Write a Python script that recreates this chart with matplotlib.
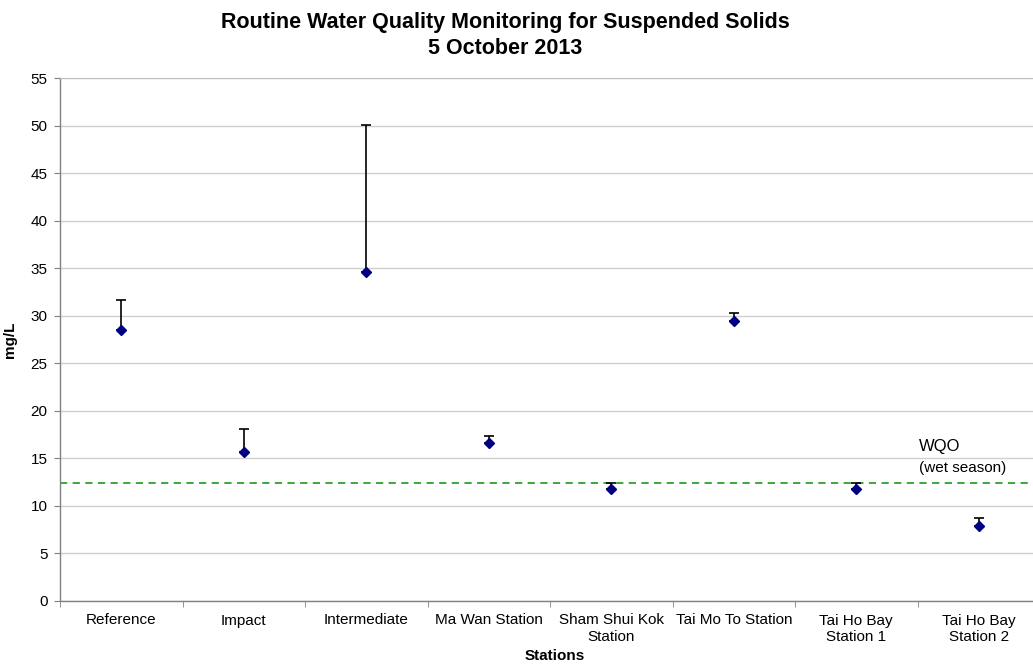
import matplotlib
matplotlib.use("Agg")
import matplotlib.pyplot as plt
import numpy as np

plt.rcParams['font.family'] = ['Liberation Sans', 'DejaVu Sans']

stations = ["Reference", "Impact", "Intermediate", "Ma Wan Station",
            "Sham Shui Kok\nStation", "Tai Mo To Station",
            "Tai Ho Bay\nStation 1", "Tai Ho Bay\nStation 2"]
mean_ss = [28.45, 15.7, 34.65, 16.65, 11.75, 29.4, 11.75, 7.9]
max_ss = [31.65, 18.05, 50.05, 17.35, 12.45, 30.25, 12.45, 8.7]
wqo = 12.45
yticks = list(range(0, 60, 5))

W, H = 1033, 664
fig = plt.figure(figsize=(W / 100, H / 100), dpi=100)
ax = fig.add_axes([60 / W, (H - 601) / H, 980 / W, 523 / H])

x = np.arange(len(stations))
upper = np.array(max_ss) - np.array(mean_ss)
ax.errorbar(x, mean_ss, yerr=[np.zeros_like(upper), upper], fmt='none',
            ecolor='black', elinewidth=1.2, capsize=3.5, capthick=1.2, zorder=3)
ax.plot(x, mean_ss, linestyle='none', marker='D', markersize=5.5,
        color='#000080', zorder=4)

ax.axhline(wqo, color='#2ca02c', linestyle=(0, (4, 3)), linewidth=1.3, zorder=2)
ax.text(6.51, 16.2, "WQO", fontsize=12, ha='left', va='center')
ax.text(6.51, 14.0, "(wet season)", fontsize=11, ha='left', va='center')

ax.set_xlim(-0.5, len(stations) - 0.5)
ax.set_ylim(0, 55)
ax.set_yticks(yticks)
ax.set_yticklabels([str(v) for v in yticks], fontsize=11)
ax.set_xticks(x)
ax.set_xticklabels(stations, fontsize=11, linespacing=1.2)
ax.set_xticks(np.arange(-0.5, len(stations)), minor=True)
ax.tick_params(axis='x', which='major', length=0, pad=9)
ax.tick_params(axis='x', which='minor', length=4, color='#808080', direction='out')
ax.tick_params(axis='y', length=4, color='#808080', direction='out', pad=5)

ax.grid(axis='y', color='#d0d0d0', linewidth=1.0)
ax.set_axisbelow(True)
for s in ['left', 'bottom']:
    ax.spines[s].set_color('#808080')
    ax.spines[s].set_linewidth(1.0)
ax.spines['right'].set_visible(False)
ax.spines['top'].set_color('#c0c0c0')

ax.set_ylabel("mg/L", fontsize=11, fontweight='bold')
ax.yaxis.set_label_coords(-(60 - 17) / 980, 0.5)
ax.set_xlabel("Stations", fontsize=11, fontweight='bold', va='center')
ax.xaxis.set_label_coords(0.505, -(656 - 601) / 523)
fig.text(505 / W, 1 - 35.5 / H, "Routine Water Quality Monitoring for Suspended Solids\n5 October 2013",
         ha='center', va='center', fontsize=15.5, fontweight='bold', linespacing=1.3)

fig.savefig("out.png", dpi=100)
